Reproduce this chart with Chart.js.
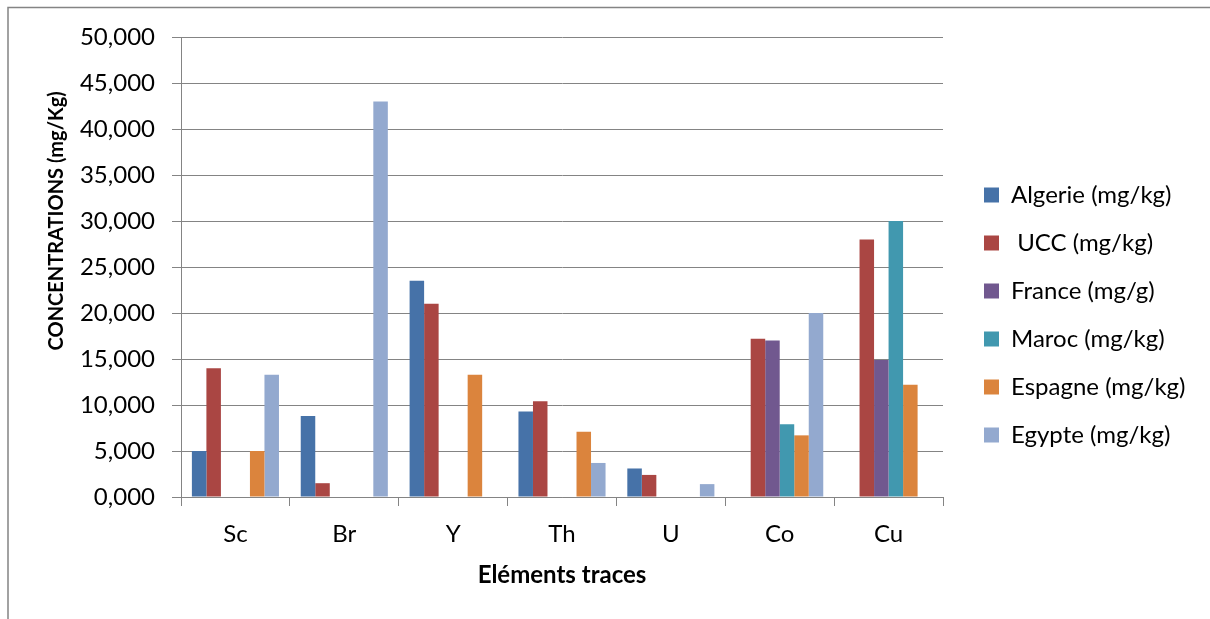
<!DOCTYPE html>
<html>
<head>
<meta charset="utf-8">
<script src="https://cdn.jsdelivr.net/npm/chart.js@4/dist/chart.umd.min.js"></script>
<style>
  html, body { margin: 0; padding: 0; background: #ffffff; }
  #wrap { width: 1210px; height: 619px; position: relative; }
  canvas { display: block; }
</style>
</head>
<body>
<div id="wrap"><canvas id="chart" width="1210" height="619"></canvas></div>
<script>
// Trace elements on the category axis
const elements = ['Sc', 'Br', 'Y', 'Th', 'U', 'Co', 'Cu'];

// Concentrations per origin (null = not measured)
const algerie = [5.0, 8.8, 23.5, 9.3, 3.1, null, null];
const ucc     = [14.0, 1.5, 21.0, 10.4, 2.4, 17.2, 28.0];
const france  = [null, null, null, null, null, 17.0, 14.9];
const maroc   = [null, null, null, null, null, 7.9, 30.0];
const espagne = [5.0, null, 13.3, 7.1, null, 6.7, 12.2];
const egypte  = [13.3, 43.0, null, 3.7, 1.4, 20.0, null];

const seriesNames = ['Algerie (mg/kg)', ' UCC (mg/kg)', 'France (mg/g)', 'Maroc (mg/kg)', 'Espagne (mg/kg)', 'Egypte (mg/kg)'];
const seriesValues = [algerie, ucc, france, maroc, espagne, egypte];
const seriesColors = ['#4672A8', '#AA4643', '#71588F', '#4198AF', '#DB843D', '#93A9CF'];

// Value axis ticks (French decimal comma)
const yTickValues = [0, 5, 10, 15, 20, 25, 30, 35, 40, 45, 50];
const yTickLabels = ['0,000', '5,000', '10,000', '15,000', '20,000', '25,000', '30,000', '35,000', '40,000', '45,000', '50,000'];

const GRID = '#848484';
const FONT = 'Lato, "Open Sans", sans-serif';

// Outer frame of the chart (left and top edges)
const chartFrame = {
  id: 'chartFrame',
  beforeDraw(chart) {
    const ctx = chart.ctx;
    ctx.save();
    ctx.strokeStyle = GRID;
    ctx.lineWidth = 1.5;
    ctx.beginPath();
    ctx.moveTo(8, chart.height);
    ctx.lineTo(8, 7.5);
    ctx.lineTo(chart.width + 2, 7.5);
    ctx.stroke();
    ctx.restore();
  }
};

// Keeps the legend column at a fixed width and position beside the plot
const legendPlacement = {
  id: 'legendPlacement',
  beforeLayout(chart) {
    const lg = chart.legend;
    if (lg && !lg._fixedFit) {
      const fit = lg.fit;
      lg.fit = function () { fit.call(this); this.width = 267; };
      lg._fixedFit = true;
    }
  },
  afterLayout(chart) {
    const lg = chart.legend;
    if (!lg) return;
    const w = lg.right - lg.left, h = lg.bottom - lg.top;
    lg.left = 960; lg.right = 960 + w;
    lg.top = 24; lg.bottom = 24 + h;
  }
};

function build() {
  Chart.defaults.font.family = FONT;
  Chart.defaults.color = '#000000';
  new Chart(document.getElementById('chart'), {
    type: 'bar',
    data: {
      labels: elements,
      datasets: seriesNames.map((name, i) => ({
        label: name,
        data: seriesValues[i],
        backgroundColor: seriesColors[i],
        borderWidth: 0
      }))
    },
    options: {
      responsive: false,
      animation: false,
      devicePixelRatio: 1,
      layout: { padding: { left: 20, top: 37, right: 0, bottom: 0 } },
      datasets: { bar: { categoryPercentage: 0.8, barPercentage: 1.0 } },
      plugins: {
        legend: {
          position: 'right',
          align: 'center',
          labels: { boxWidth: 15, boxHeight: 15, padding: 24, color: '#000', font: { size: 24 } }
        },
        tooltip: { enabled: false }
      },
      scales: {
        x: {
          offset: true,
          grid: { offset: true, drawOnChartArea: false, drawTicks: true, tickLength: 9, color: GRID, lineWidth: 1 },
          border: { color: GRID, width: 1 },
          ticks: { padding: 14, color: '#000', font: { size: 24 } },
          title: {
            display: true, text: 'Eléments traces', color: '#000',
            font: { size: 24, weight: 'bold' }, padding: { top: 0, bottom: 29 }
          },
          afterFit(scale) { scale.height = 122; }
        },
        y: {
          min: 0, max: 50,
          grid: { color: GRID, lineWidth: 1, tickLength: 9 },
          border: { color: GRID, width: 1 },
          ticks: {
            stepSize: 5, padding: 17, color: '#000', font: { size: 24 },
            callback: (v) => { const k = yTickValues.indexOf(v); return k >= 0 ? yTickLabels[k] : ''; }
          },
          title: {
            display: true,
            text: ' '.repeat(19) + 'CONCENTRATIONS (mg/Kg)',
            color: '#000',
            font: { size: 20, weight: 'bold' },
            padding: { top: 25, bottom: 0 }
          },
          afterFit(scale) { scale.width = 161; }
        }
      }
    },
    plugins: [chartFrame, legendPlacement]
  });
}

if (document.fonts && document.fonts.load) {
  Promise.all([
    document.fonts.load('24px Lato'),
    document.fonts.load('bold 24px Lato')
  ]).then(build, build);
} else {
  build();
}
</script>
</body>
</html>
